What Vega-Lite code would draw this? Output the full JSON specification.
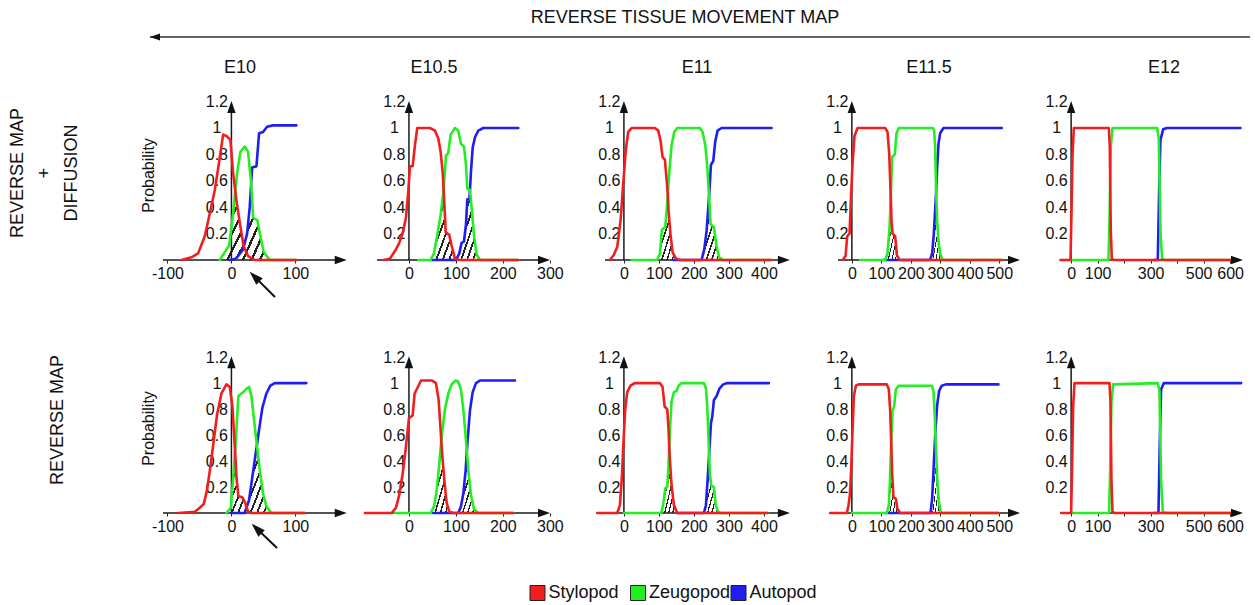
{
"$schema":"https://vega.github.io/schema/vega-lite/v6.json",
"padding":0,
"background":"white",
"autosize":{"type":"pad"},
"config":{
 "view":{"stroke":null},
 "font":"Liberation Sans",
 "axis":{"grid":false,"domain":false,"labelFontSize":16,"labelColor":"#111","tickColor":"#222","labelFont":"Liberation Sans","labelOverlap":false,"labelFlush":false,"labelBound":false,"tickCount":20},
 "line":{"strokeWidth":2.6,"strokeJoin":"round","strokeCap":"round"},
 "area":{"fill":{"gradient":"linear","x1":0,"y1":0,"x2":1,"y2":1,"stops":[
{"offset":0,"color":"#ffffff"},{"offset":0.0875,"color":"#ffffff"},{"offset":0.0875,"color":"#222222"},{"offset":0.125,"color":"#222222"},
{"offset":0.125,"color":"#ffffff"},{"offset":0.2125,"color":"#ffffff"},{"offset":0.2125,"color":"#222222"},{"offset":0.25,"color":"#222222"},
{"offset":0.25,"color":"#ffffff"},{"offset":0.3375,"color":"#ffffff"},{"offset":0.3375,"color":"#222222"},{"offset":0.375,"color":"#222222"},
{"offset":0.375,"color":"#ffffff"},{"offset":0.4625,"color":"#ffffff"},{"offset":0.4625,"color":"#222222"},{"offset":0.5,"color":"#222222"},
{"offset":0.5,"color":"#ffffff"},{"offset":0.5875,"color":"#ffffff"},{"offset":0.5875,"color":"#222222"},{"offset":0.625,"color":"#222222"},
{"offset":0.625,"color":"#ffffff"},{"offset":0.7125,"color":"#ffffff"},{"offset":0.7125,"color":"#222222"},{"offset":0.75,"color":"#222222"},
{"offset":0.75,"color":"#ffffff"},{"offset":0.8375,"color":"#ffffff"},{"offset":0.8375,"color":"#222222"},{"offset":0.875,"color":"#222222"},
{"offset":0.875,"color":"#ffffff"},{"offset":0.9625,"color":"#ffffff"},{"offset":0.9625,"color":"#222222"},{"offset":1,"color":"#222222"}]}}
},
"datasets":{
"rowlabels":[{"r":1,"label":"REVERSE MAP\n+\nDIFFUSION"},{"r":2,"label":"REVERSE MAP"}],
"stages":[{"stage":"E10"},{"stage":"E10.5"},{"stage":"E11"},{"stage":"E11.5"},{"stage":"E12"}],
"parts":[{"s":"Stylopod"},{"s":"Zeugopod"},{"s":"Autopod"}],
"ov":[
{"p":"T1","g":"a","x":-18.2,"y":0},{"p":"T1","g":"a","x":-10.4,"y":0.06},{"p":"T1","g":"a","x":-3.6,"y":0.11},{"p":"T1","g":"a","x":2.6,"y":0.35},{"p":"T1","g":"a","x":6,"y":0.52},{"p":"T1","g":"a","x":7.8,"y":0.45},{"p":"T1","g":"a","x":14.1,"y":0.25},{"p":"T1","g":"a","x":19.3,"y":0.1},{"p":"T1","g":"a","x":26,"y":0.03},{"p":"T1","g":"a","x":36.5,"y":0},
{"p":"T1","g":"b","x":6.8,"y":0},{"p":"T1","g":"b","x":10.4,"y":0.03},{"p":"T1","g":"b","x":18.2,"y":0.08},{"p":"T1","g":"b","x":24.5,"y":0.2},{"p":"T1","g":"b","x":28.6,"y":0.4},{"p":"T1","g":"b","x":30.9,"y":0.58},{"p":"T1","g":"b","x":33.9,"y":0.32},{"p":"T1","g":"b","x":40.6,"y":0.3},{"p":"T1","g":"b","x":45.3,"y":0.18},{"p":"T1","g":"b","x":50.5,"y":0.06},{"p":"T1","g":"b","x":59.9,"y":0},
{"p":"T2","g":"a","x":46.1,"y":0},{"p":"T2","g":"a","x":53.2,"y":0.05},{"p":"T2","g":"a","x":60.3,"y":0.19},{"p":"T2","g":"a","x":67.4,"y":0.34},{"p":"T2","g":"a","x":73.8,"y":0.53},{"p":"T2","g":"a","x":76.7,"y":0.33},{"p":"T2","g":"a","x":78.1,"y":0.21},{"p":"T2","g":"a","x":85.9,"y":0.19},{"p":"T2","g":"a","x":90.8,"y":0.11},{"p":"T2","g":"a","x":97.9,"y":0.01},{"p":"T2","g":"a","x":101.5,"y":0},
{"p":"T2","g":"b","x":100.1,"y":0},{"p":"T2","g":"b","x":107.2,"y":0.05},{"p":"T2","g":"b","x":112.1,"y":0.13},{"p":"T2","g":"b","x":117.1,"y":0.14},{"p":"T2","g":"b","x":121.4,"y":0.27},{"p":"T2","g":"b","x":124.2,"y":0.46},{"p":"T2","g":"b","x":128.5,"y":0.46},{"p":"T2","g":"b","x":129.9,"y":0.53},{"p":"T2","g":"b","x":134.1,"y":0.37},{"p":"T2","g":"b","x":138.4,"y":0.19},{"p":"T2","g":"b","x":144.1,"y":0.04},{"p":"T2","g":"b","x":151.2,"y":0},
{"p":"T3","g":"a","x":95.2,"y":0},{"p":"T3","g":"a","x":102.9,"y":0.05},{"p":"T3","g":"a","x":108.6,"y":0.23},{"p":"T3","g":"a","x":118.1,"y":0.25},{"p":"T3","g":"a","x":123.8,"y":0.43},{"p":"T3","g":"a","x":125.4,"y":0.5},{"p":"T3","g":"a","x":127.6,"y":0.37},{"p":"T3","g":"a","x":133.3,"y":0.19},{"p":"T3","g":"a","x":139,"y":0.06},{"p":"T3","g":"a","x":148.6,"y":0.01},{"p":"T3","g":"a","x":155.2,"y":0},
{"p":"T3","g":"b","x":221.9,"y":0},{"p":"T3","g":"b","x":229.5,"y":0.08},{"p":"T3","g":"b","x":236.2,"y":0.22},{"p":"T3","g":"b","x":243.3,"y":0.48},{"p":"T3","g":"b","x":247.6,"y":0.27},{"p":"T3","g":"b","x":257.1,"y":0.25},{"p":"T3","g":"b","x":264.8,"y":0.1},{"p":"T3","g":"b","x":272.4,"y":0.02},{"p":"T3","g":"b","x":283.8,"y":0},
{"p":"T4","g":"a","x":113,"y":0},{"p":"T4","g":"a","x":120.9,"y":0.05},{"p":"T4","g":"a","x":127.7,"y":0.24},{"p":"T4","g":"a","x":132,"y":0.48},{"p":"T4","g":"a","x":134.5,"y":0.29},{"p":"T4","g":"a","x":137.9,"y":0.2},{"p":"T4","g":"a","x":146.9,"y":0.18},{"p":"T4","g":"a","x":152.5,"y":0.04},{"p":"T4","g":"a","x":161.6,"y":0},
{"p":"T4","g":"b","x":265.5,"y":0},{"p":"T4","g":"b","x":272.3,"y":0.05},{"p":"T4","g":"b","x":278,"y":0.2},{"p":"T4","g":"b","x":282.5,"y":0.38},{"p":"T4","g":"b","x":285.9,"y":0.52},{"p":"T4","g":"b","x":289.3,"y":0.3},{"p":"T4","g":"b","x":293.8,"y":0.14},{"p":"T4","g":"b","x":299.4,"y":0.05},{"p":"T4","g":"b","x":307.3,"y":0},
{"p":"B1","g":"a","x":-7.8,"y":0},{"p":"B1","g":"a","x":-1,"y":0.04},{"p":"B1","g":"a","x":2.6,"y":0.26},{"p":"B1","g":"a","x":5.7,"y":0.48},{"p":"B1","g":"a","x":7.8,"y":0.28},{"p":"B1","g":"a","x":10.9,"y":0.13},{"p":"B1","g":"a","x":17.2,"y":0.12},{"p":"B1","g":"a","x":21.4,"y":0.08},{"p":"B1","g":"a","x":26,"y":0.01},{"p":"B1","g":"a","x":31.3,"y":0},
{"p":"B1","g":"b","x":20.8,"y":0},{"p":"B1","g":"b","x":27.6,"y":0.1},{"p":"B1","g":"b","x":32.8,"y":0.28},{"p":"B1","g":"b","x":38,"y":0.46},{"p":"B1","g":"b","x":39.8,"y":0.52},{"p":"B1","g":"b","x":44.3,"y":0.33},{"p":"B1","g":"b","x":49.5,"y":0.15},{"p":"B1","g":"b","x":54.7,"y":0.05},{"p":"B1","g":"b","x":62.5,"y":0},
{"p":"B2","g":"a","x":46.1,"y":0},{"p":"B2","g":"a","x":53.2,"y":0.05},{"p":"B2","g":"a","x":58.9,"y":0.17},{"p":"B2","g":"a","x":64.6,"y":0.38},{"p":"B2","g":"a","x":68.8,"y":0.555},{"p":"B2","g":"a","x":71.7,"y":0.41},{"p":"B2","g":"a","x":75.9,"y":0.23},{"p":"B2","g":"a","x":80.2,"y":0.08},{"p":"B2","g":"a","x":85.9,"y":0.01},{"p":"B2","g":"a","x":90.8,"y":0},
{"p":"B2","g":"b","x":105,"y":0},{"p":"B2","g":"b","x":110.7,"y":0.05},{"p":"B2","g":"b","x":115.7,"y":0.15},{"p":"B2","g":"b","x":120.7,"y":0.33},{"p":"B2","g":"b","x":123.3,"y":0.475},{"p":"B2","g":"b","x":126.3,"y":0.33},{"p":"B2","g":"b","x":132,"y":0.14},{"p":"B2","g":"b","x":138.4,"y":0.03},{"p":"B2","g":"b","x":147.6,"y":0},
{"p":"B3","g":"a","x":106.7,"y":0},{"p":"B3","g":"a","x":112.4,"y":0.07},{"p":"B3","g":"a","x":118.1,"y":0.19},{"p":"B3","g":"a","x":123.8,"y":0.2},{"p":"B3","g":"a","x":127.6,"y":0.38},{"p":"B3","g":"a","x":129.5,"y":0.51},{"p":"B3","g":"a","x":131.4,"y":0.41},{"p":"B3","g":"a","x":136.2,"y":0.21},{"p":"B3","g":"a","x":142.9,"y":0.06},{"p":"B3","g":"a","x":152.4,"y":0},
{"p":"B3","g":"b","x":228.6,"y":0},{"p":"B3","g":"b","x":234.3,"y":0.06},{"p":"B3","g":"b","x":239,"y":0.25},{"p":"B3","g":"b","x":243.4,"y":0.45},{"p":"B3","g":"b","x":245.7,"y":0.3},{"p":"B3","g":"b","x":249.5,"y":0.21},{"p":"B3","g":"b","x":257.1,"y":0.2},{"p":"B3","g":"b","x":261.9,"y":0.07},{"p":"B3","g":"b","x":268.6,"y":0.01},{"p":"B3","g":"b","x":276.2,"y":0},
{"p":"B4","g":"a","x":118.6,"y":0},{"p":"B4","g":"a","x":125.4,"y":0.06},{"p":"B4","g":"a","x":129.9,"y":0.28},{"p":"B4","g":"a","x":133.4,"y":0.55},{"p":"B4","g":"a","x":136.7,"y":0.3},{"p":"B4","g":"a","x":141.2,"y":0.12},{"p":"B4","g":"a","x":149.2,"y":0.11},{"p":"B4","g":"a","x":154.8,"y":0.03},{"p":"B4","g":"a","x":163.8,"y":0},
{"p":"B4","g":"b","x":266.7,"y":0},{"p":"B4","g":"b","x":272.3,"y":0.11},{"p":"B4","g":"b","x":278,"y":0.38},{"p":"B4","g":"b","x":283.1,"y":0.62},{"p":"B4","g":"b","x":285.9,"y":0.46},{"p":"B4","g":"b","x":290.4,"y":0.23},{"p":"B4","g":"b","x":294.9,"y":0.09},{"p":"B4","g":"b","x":301.7,"y":0}
],
"curves":[
{"p":"T1","s":"Autopod","x":-2.6,"y":0},{"p":"T1","s":"Autopod","x":6.8,"y":0.01},{"p":"T1","s":"Autopod","x":10.4,"y":0.03},{"p":"T1","s":"Autopod","x":18.2,"y":0.08},{"p":"T1","s":"Autopod","x":24.5,"y":0.2},{"p":"T1","s":"Autopod","x":28.6,"y":0.4},{"p":"T1","s":"Autopod","x":30.9,"y":0.58},{"p":"T1","s":"Autopod","x":32.3,"y":0.7},{"p":"T1","s":"Autopod","x":39.1,"y":0.71},{"p":"T1","s":"Autopod","x":43.2,"y":0.96},{"p":"T1","s":"Autopod","x":49.5,"y":0.97},{"p":"T1","s":"Autopod","x":55.7,"y":1.01},{"p":"T1","s":"Autopod","x":65.1,"y":1.02},{"p":"T1","s":"Autopod","x":101.6,"y":1.02},
{"p":"T1","s":"Zeugopod","x":-18.2,"y":0},{"p":"T1","s":"Zeugopod","x":-10.4,"y":0.06},{"p":"T1","s":"Zeugopod","x":-3.6,"y":0.11},{"p":"T1","s":"Zeugopod","x":2.6,"y":0.35},{"p":"T1","s":"Zeugopod","x":6,"y":0.525},{"p":"T1","s":"Zeugopod","x":8.9,"y":0.66},{"p":"T1","s":"Zeugopod","x":14.1,"y":0.82},{"p":"T1","s":"Zeugopod","x":20.8,"y":0.86},{"p":"T1","s":"Zeugopod","x":26,"y":0.82},{"p":"T1","s":"Zeugopod","x":30.9,"y":0.58},{"p":"T1","s":"Zeugopod","x":33.9,"y":0.32},{"p":"T1","s":"Zeugopod","x":40.6,"y":0.3},{"p":"T1","s":"Zeugopod","x":45.3,"y":0.18},{"p":"T1","s":"Zeugopod","x":50.5,"y":0.06},{"p":"T1","s":"Zeugopod","x":59.9,"y":0},{"p":"T1","s":"Zeugopod","x":101.6,"y":0},
{"p":"T1","s":"Stylopod","x":-78.1,"y":0},{"p":"T1","s":"Stylopod","x":-62.5,"y":0.02},{"p":"T1","s":"Stylopod","x":-52.1,"y":0.05},{"p":"T1","s":"Stylopod","x":-41.7,"y":0.18},{"p":"T1","s":"Stylopod","x":-33.9,"y":0.35},{"p":"T1","s":"Stylopod","x":-26,"y":0.53},{"p":"T1","s":"Stylopod","x":-19.3,"y":0.74},{"p":"T1","s":"Stylopod","x":-13,"y":0.95},{"p":"T1","s":"Stylopod","x":-7.8,"y":0.94},{"p":"T1","s":"Stylopod","x":-1.6,"y":0.91},{"p":"T1","s":"Stylopod","x":2.6,"y":0.66},{"p":"T1","s":"Stylopod","x":6,"y":0.525},{"p":"T1","s":"Stylopod","x":7.8,"y":0.45},{"p":"T1","s":"Stylopod","x":14.1,"y":0.25},{"p":"T1","s":"Stylopod","x":19.3,"y":0.1},{"p":"T1","s":"Stylopod","x":26,"y":0.03},{"p":"T1","s":"Stylopod","x":36.5,"y":0},{"p":"T1","s":"Stylopod","x":101.6,"y":0},
{"p":"T2","s":"Autopod","x":48.3,"y":0},{"p":"T2","s":"Autopod","x":100.1,"y":0},{"p":"T2","s":"Autopod","x":107.2,"y":0.05},{"p":"T2","s":"Autopod","x":112.1,"y":0.13},{"p":"T2","s":"Autopod","x":117.1,"y":0.14},{"p":"T2","s":"Autopod","x":121.4,"y":0.27},{"p":"T2","s":"Autopod","x":124.2,"y":0.46},{"p":"T2","s":"Autopod","x":128.5,"y":0.46},{"p":"T2","s":"Autopod","x":129.9,"y":0.53},{"p":"T2","s":"Autopod","x":132,"y":0.67},{"p":"T2","s":"Autopod","x":135.6,"y":0.85},{"p":"T2","s":"Autopod","x":140.5,"y":0.93},{"p":"T2","s":"Autopod","x":147.6,"y":0.98},{"p":"T2","s":"Autopod","x":158.3,"y":1},{"p":"T2","s":"Autopod","x":232.8,"y":1},
{"p":"T2","s":"Zeugopod","x":19.9,"y":0},{"p":"T2","s":"Zeugopod","x":46.1,"y":0},{"p":"T2","s":"Zeugopod","x":53.2,"y":0.05},{"p":"T2","s":"Zeugopod","x":60.3,"y":0.19},{"p":"T2","s":"Zeugopod","x":67.4,"y":0.34},{"p":"T2","s":"Zeugopod","x":73.8,"y":0.53},{"p":"T2","s":"Zeugopod","x":78.8,"y":0.79},{"p":"T2","s":"Zeugopod","x":83.7,"y":0.81},{"p":"T2","s":"Zeugopod","x":88.7,"y":0.95},{"p":"T2","s":"Zeugopod","x":97.9,"y":1},{"p":"T2","s":"Zeugopod","x":105,"y":0.98},{"p":"T2","s":"Zeugopod","x":110.7,"y":0.88},{"p":"T2","s":"Zeugopod","x":117.1,"y":0.86},{"p":"T2","s":"Zeugopod","x":121.4,"y":0.72},{"p":"T2","s":"Zeugopod","x":124.2,"y":0.54},{"p":"T2","s":"Zeugopod","x":129.9,"y":0.53},{"p":"T2","s":"Zeugopod","x":134.1,"y":0.37},{"p":"T2","s":"Zeugopod","x":138.4,"y":0.19},{"p":"T2","s":"Zeugopod","x":144.1,"y":0.04},{"p":"T2","s":"Zeugopod","x":151.2,"y":0},{"p":"T2","s":"Zeugopod","x":232.8,"y":0},
{"p":"T2","s":"Stylopod","x":-54.6,"y":0},{"p":"T2","s":"Stylopod","x":-40.5,"y":0.01},{"p":"T2","s":"Stylopod","x":-27.7,"y":0.08},{"p":"T2","s":"Stylopod","x":-20.6,"y":0.13},{"p":"T2","s":"Stylopod","x":-13.5,"y":0.2},{"p":"T2","s":"Stylopod","x":-6.4,"y":0.32},{"p":"T2","s":"Stylopod","x":-1.4,"y":0.52},{"p":"T2","s":"Stylopod","x":2.1,"y":0.71},{"p":"T2","s":"Stylopod","x":7.8,"y":0.71},{"p":"T2","s":"Stylopod","x":12.8,"y":0.87},{"p":"T2","s":"Stylopod","x":17.7,"y":1},{"p":"T2","s":"Stylopod","x":44.7,"y":1},{"p":"T2","s":"Stylopod","x":55.4,"y":0.98},{"p":"T2","s":"Stylopod","x":62.5,"y":0.92},{"p":"T2","s":"Stylopod","x":67.4,"y":0.82},{"p":"T2","s":"Stylopod","x":71.7,"y":0.67},{"p":"T2","s":"Stylopod","x":73.8,"y":0.53},{"p":"T2","s":"Stylopod","x":76.7,"y":0.33},{"p":"T2","s":"Stylopod","x":78.1,"y":0.21},{"p":"T2","s":"Stylopod","x":85.9,"y":0.19},{"p":"T2","s":"Stylopod","x":90.8,"y":0.11},{"p":"T2","s":"Stylopod","x":97.9,"y":0.01},{"p":"T2","s":"Stylopod","x":108.6,"y":0},{"p":"T2","s":"Stylopod","x":232.8,"y":0},
{"p":"T3","s":"Autopod","x":141,"y":0},{"p":"T3","s":"Autopod","x":221.9,"y":0},{"p":"T3","s":"Autopod","x":229.5,"y":0.08},{"p":"T3","s":"Autopod","x":236.2,"y":0.22},{"p":"T3","s":"Autopod","x":243.3,"y":0.48},{"p":"T3","s":"Autopod","x":248.6,"y":0.72},{"p":"T3","s":"Autopod","x":255.2,"y":0.75},{"p":"T3","s":"Autopod","x":261,"y":0.9},{"p":"T3","s":"Autopod","x":267.6,"y":0.98},{"p":"T3","s":"Autopod","x":279,"y":1},{"p":"T3","s":"Autopod","x":421.9,"y":1},
{"p":"T3","s":"Zeugopod","x":21.9,"y":0},{"p":"T3","s":"Zeugopod","x":95.2,"y":0},{"p":"T3","s":"Zeugopod","x":102.9,"y":0.05},{"p":"T3","s":"Zeugopod","x":108.6,"y":0.23},{"p":"T3","s":"Zeugopod","x":118.1,"y":0.25},{"p":"T3","s":"Zeugopod","x":123.8,"y":0.43},{"p":"T3","s":"Zeugopod","x":125.4,"y":0.5},{"p":"T3","s":"Zeugopod","x":129.5,"y":0.66},{"p":"T3","s":"Zeugopod","x":136.2,"y":0.87},{"p":"T3","s":"Zeugopod","x":143.8,"y":0.97},{"p":"T3","s":"Zeugopod","x":152.4,"y":1},{"p":"T3","s":"Zeugopod","x":217.1,"y":1},{"p":"T3","s":"Zeugopod","x":224.8,"y":0.97},{"p":"T3","s":"Zeugopod","x":232.4,"y":0.87},{"p":"T3","s":"Zeugopod","x":238.1,"y":0.71},{"p":"T3","s":"Zeugopod","x":243.3,"y":0.48},{"p":"T3","s":"Zeugopod","x":247.6,"y":0.27},{"p":"T3","s":"Zeugopod","x":257.1,"y":0.25},{"p":"T3","s":"Zeugopod","x":264.8,"y":0.1},{"p":"T3","s":"Zeugopod","x":272.4,"y":0.02},{"p":"T3","s":"Zeugopod","x":283.8,"y":0},{"p":"T3","s":"Zeugopod","x":421.9,"y":0},
{"p":"T3","s":"Stylopod","x":-40,"y":0},{"p":"T3","s":"Stylopod","x":-28.6,"y":0.04},{"p":"T3","s":"Stylopod","x":-19,"y":0.1},{"p":"T3","s":"Stylopod","x":-9.5,"y":0.3},{"p":"T3","s":"Stylopod","x":-1.9,"y":0.58},{"p":"T3","s":"Stylopod","x":5.7,"y":0.84},{"p":"T3","s":"Stylopod","x":12.4,"y":0.97},{"p":"T3","s":"Stylopod","x":21.9,"y":1},{"p":"T3","s":"Stylopod","x":88.6,"y":1},{"p":"T3","s":"Stylopod","x":98.1,"y":0.98},{"p":"T3","s":"Stylopod","x":104.8,"y":0.9},{"p":"T3","s":"Stylopod","x":110.5,"y":0.78},{"p":"T3","s":"Stylopod","x":117.1,"y":0.76},{"p":"T3","s":"Stylopod","x":121.9,"y":0.61},{"p":"T3","s":"Stylopod","x":125.4,"y":0.5},{"p":"T3","s":"Stylopod","x":127.6,"y":0.37},{"p":"T3","s":"Stylopod","x":133.3,"y":0.19},{"p":"T3","s":"Stylopod","x":139,"y":0.06},{"p":"T3","s":"Stylopod","x":148.6,"y":0.01},{"p":"T3","s":"Stylopod","x":160,"y":0},{"p":"T3","s":"Stylopod","x":421.9,"y":0},
{"p":"T4","s":"Autopod","x":107.3,"y":0},{"p":"T4","s":"Autopod","x":265.5,"y":0},{"p":"T4","s":"Autopod","x":272.3,"y":0.05},{"p":"T4","s":"Autopod","x":278,"y":0.2},{"p":"T4","s":"Autopod","x":282.5,"y":0.38},{"p":"T4","s":"Autopod","x":285.9,"y":0.52},{"p":"T4","s":"Autopod","x":289.3,"y":0.7},{"p":"T4","s":"Autopod","x":293.8,"y":0.88},{"p":"T4","s":"Autopod","x":299.4,"y":0.96},{"p":"T4","s":"Autopod","x":310.7,"y":1},{"p":"T4","s":"Autopod","x":508.5,"y":1},
{"p":"T4","s":"Zeugopod","x":28.2,"y":0},{"p":"T4","s":"Zeugopod","x":113,"y":0},{"p":"T4","s":"Zeugopod","x":120.9,"y":0.05},{"p":"T4","s":"Zeugopod","x":127.7,"y":0.24},{"p":"T4","s":"Zeugopod","x":132,"y":0.48},{"p":"T4","s":"Zeugopod","x":136.7,"y":0.78},{"p":"T4","s":"Zeugopod","x":145.8,"y":0.8},{"p":"T4","s":"Zeugopod","x":151.4,"y":0.96},{"p":"T4","s":"Zeugopod","x":159.3,"y":1},{"p":"T4","s":"Zeugopod","x":274.6,"y":1},{"p":"T4","s":"Zeugopod","x":279.1,"y":0.98},{"p":"T4","s":"Zeugopod","x":282.5,"y":0.85},{"p":"T4","s":"Zeugopod","x":285.9,"y":0.52},{"p":"T4","s":"Zeugopod","x":289.3,"y":0.3},{"p":"T4","s":"Zeugopod","x":293.8,"y":0.14},{"p":"T4","s":"Zeugopod","x":299.4,"y":0.05},{"p":"T4","s":"Zeugopod","x":307.3,"y":0},{"p":"T4","s":"Zeugopod","x":508.5,"y":0},
{"p":"T4","s":"Stylopod","x":-30.5,"y":0},{"p":"T4","s":"Stylopod","x":-21.5,"y":0.03},{"p":"T4","s":"Stylopod","x":-15.8,"y":0.18},{"p":"T4","s":"Stylopod","x":-7.9,"y":0.2},{"p":"T4","s":"Stylopod","x":-3.4,"y":0.45},{"p":"T4","s":"Stylopod","x":2.3,"y":0.73},{"p":"T4","s":"Stylopod","x":9,"y":0.94},{"p":"T4","s":"Stylopod","x":19.2,"y":1},{"p":"T4","s":"Stylopod","x":113,"y":1},{"p":"T4","s":"Stylopod","x":120.9,"y":0.97},{"p":"T4","s":"Stylopod","x":126.6,"y":0.81},{"p":"T4","s":"Stylopod","x":132,"y":0.48},{"p":"T4","s":"Stylopod","x":134.5,"y":0.29},{"p":"T4","s":"Stylopod","x":137.9,"y":0.2},{"p":"T4","s":"Stylopod","x":146.9,"y":0.18},{"p":"T4","s":"Stylopod","x":152.5,"y":0.04},{"p":"T4","s":"Stylopod","x":161.6,"y":0},{"p":"T4","s":"Stylopod","x":508.5,"y":0},
{"p":"T5","s":"Autopod","x":311.9,"y":0},{"p":"T5","s":"Autopod","x":327,"y":0},{"p":"T5","s":"Autopod","x":332.1,"y":0.53},{"p":"T5","s":"Autopod","x":337.1,"y":0.91},{"p":"T5","s":"Autopod","x":347.2,"y":0.99},{"p":"T5","s":"Autopod","x":362.3,"y":1},{"p":"T5","s":"Autopod","x":639,"y":1},
{"p":"T5","s":"Zeugopod","x":3.8,"y":0},{"p":"T5","s":"Zeugopod","x":140.9,"y":0},{"p":"T5","s":"Zeugopod","x":144.7,"y":0.3},{"p":"T5","s":"Zeugopod","x":149.7,"y":0.86},{"p":"T5","s":"Zeugopod","x":156,"y":1},{"p":"T5","s":"Zeugopod","x":324.5,"y":1},{"p":"T5","s":"Zeugopod","x":330.8,"y":0.92},{"p":"T5","s":"Zeugopod","x":337.1,"y":0.22},{"p":"T5","s":"Zeugopod","x":343.4,"y":0.01},{"p":"T5","s":"Zeugopod","x":356,"y":0},{"p":"T5","s":"Zeugopod","x":613.8,"y":0},
{"p":"T5","s":"Stylopod","x":-40.3,"y":0},{"p":"T5","s":"Stylopod","x":-2.5,"y":0},{"p":"T5","s":"Stylopod","x":1.3,"y":0.35},{"p":"T5","s":"Stylopod","x":5,"y":0.78},{"p":"T5","s":"Stylopod","x":10.1,"y":1},{"p":"T5","s":"Stylopod","x":142.1,"y":1},{"p":"T5","s":"Stylopod","x":145.9,"y":0.86},{"p":"T5","s":"Stylopod","x":149.7,"y":0.22},{"p":"T5","s":"Stylopod","x":153.5,"y":0.01},{"p":"T5","s":"Stylopod","x":161,"y":0},{"p":"T5","s":"Stylopod","x":613.8,"y":0},
{"p":"B1","s":"Autopod","x":0,"y":0},{"p":"B1","s":"Autopod","x":20.8,"y":0},{"p":"B1","s":"Autopod","x":27.6,"y":0.1},{"p":"B1","s":"Autopod","x":32.8,"y":0.28},{"p":"B1","s":"Autopod","x":38,"y":0.46},{"p":"B1","s":"Autopod","x":39.8,"y":0.52},{"p":"B1","s":"Autopod","x":43.2,"y":0.64},{"p":"B1","s":"Autopod","x":48.4,"y":0.81},{"p":"B1","s":"Autopod","x":54.7,"y":0.92},{"p":"B1","s":"Autopod","x":60.9,"y":0.98},{"p":"B1","s":"Autopod","x":67.7,"y":1},{"p":"B1","s":"Autopod","x":117.2,"y":1},
{"p":"B1","s":"Zeugopod","x":-7.8,"y":0},{"p":"B1","s":"Zeugopod","x":-1,"y":0.04},{"p":"B1","s":"Zeugopod","x":2.6,"y":0.26},{"p":"B1","s":"Zeugopod","x":5.7,"y":0.48},{"p":"B1","s":"Zeugopod","x":6.8,"y":0.56},{"p":"B1","s":"Zeugopod","x":10.9,"y":0.9},{"p":"B1","s":"Zeugopod","x":18.2,"y":0.93},{"p":"B1","s":"Zeugopod","x":24.5,"y":0.96},{"p":"B1","s":"Zeugopod","x":27.6,"y":0.97},{"p":"B1","s":"Zeugopod","x":31.3,"y":0.9},{"p":"B1","s":"Zeugopod","x":34.9,"y":0.74},{"p":"B1","s":"Zeugopod","x":39.8,"y":0.52},{"p":"B1","s":"Zeugopod","x":44.3,"y":0.33},{"p":"B1","s":"Zeugopod","x":49.5,"y":0.15},{"p":"B1","s":"Zeugopod","x":54.7,"y":0.05},{"p":"B1","s":"Zeugopod","x":62.5,"y":0},{"p":"B1","s":"Zeugopod","x":114.6,"y":0},
{"p":"B1","s":"Stylopod","x":-83.3,"y":0},{"p":"B1","s":"Stylopod","x":-57.3,"y":0.01},{"p":"B1","s":"Stylopod","x":-49.5,"y":0.04},{"p":"B1","s":"Stylopod","x":-43.2,"y":0.07},{"p":"B1","s":"Stylopod","x":-38,"y":0.18},{"p":"B1","s":"Stylopod","x":-32.8,"y":0.36},{"p":"B1","s":"Stylopod","x":-27.6,"y":0.56},{"p":"B1","s":"Stylopod","x":-22.4,"y":0.76},{"p":"B1","s":"Stylopod","x":-15.6,"y":0.92},{"p":"B1","s":"Stylopod","x":-7.8,"y":0.99},{"p":"B1","s":"Stylopod","x":-2.6,"y":0.97},{"p":"B1","s":"Stylopod","x":1.6,"y":0.82},{"p":"B1","s":"Stylopod","x":4.7,"y":0.56},{"p":"B1","s":"Stylopod","x":5.7,"y":0.48},{"p":"B1","s":"Stylopod","x":7.8,"y":0.28},{"p":"B1","s":"Stylopod","x":10.9,"y":0.13},{"p":"B1","s":"Stylopod","x":17.2,"y":0.12},{"p":"B1","s":"Stylopod","x":21.4,"y":0.08},{"p":"B1","s":"Stylopod","x":26,"y":0.01},{"p":"B1","s":"Stylopod","x":31.3,"y":0},{"p":"B1","s":"Stylopod","x":114.6,"y":0},
{"p":"B2","s":"Autopod","x":51.8,"y":0},{"p":"B2","s":"Autopod","x":105,"y":0},{"p":"B2","s":"Autopod","x":110.7,"y":0.05},{"p":"B2","s":"Autopod","x":115.7,"y":0.15},{"p":"B2","s":"Autopod","x":120.7,"y":0.33},{"p":"B2","s":"Autopod","x":123.3,"y":0.475},{"p":"B2","s":"Autopod","x":124.9,"y":0.56},{"p":"B2","s":"Autopod","x":129.9,"y":0.79},{"p":"B2","s":"Autopod","x":135.6,"y":0.93},{"p":"B2","s":"Autopod","x":142.7,"y":1},{"p":"B2","s":"Autopod","x":151.2,"y":1.02},{"p":"B2","s":"Autopod","x":225.7,"y":1.02},
{"p":"B2","s":"Zeugopod","x":-29.8,"y":0},{"p":"B2","s":"Zeugopod","x":46.1,"y":0},{"p":"B2","s":"Zeugopod","x":53.2,"y":0.05},{"p":"B2","s":"Zeugopod","x":58.9,"y":0.17},{"p":"B2","s":"Zeugopod","x":64.6,"y":0.38},{"p":"B2","s":"Zeugopod","x":68.8,"y":0.555},{"p":"B2","s":"Zeugopod","x":70.3,"y":0.61},{"p":"B2","s":"Zeugopod","x":76.7,"y":0.8},{"p":"B2","s":"Zeugopod","x":83.7,"y":0.92},{"p":"B2","s":"Zeugopod","x":90.8,"y":0.99},{"p":"B2","s":"Zeugopod","x":99.4,"y":1.02},{"p":"B2","s":"Zeugopod","x":105,"y":1.01},{"p":"B2","s":"Zeugopod","x":110.7,"y":0.95},{"p":"B2","s":"Zeugopod","x":115.7,"y":0.8},{"p":"B2","s":"Zeugopod","x":121.4,"y":0.56},{"p":"B2","s":"Zeugopod","x":123.3,"y":0.475},{"p":"B2","s":"Zeugopod","x":126.3,"y":0.33},{"p":"B2","s":"Zeugopod","x":132,"y":0.14},{"p":"B2","s":"Zeugopod","x":138.4,"y":0.03},{"p":"B2","s":"Zeugopod","x":147.6,"y":0},{"p":"B2","s":"Zeugopod","x":222.1,"y":0},
{"p":"B2","s":"Stylopod","x":-93.7,"y":0},{"p":"B2","s":"Stylopod","x":-36.9,"y":0},{"p":"B2","s":"Stylopod","x":-27.7,"y":0.04},{"p":"B2","s":"Stylopod","x":-20.6,"y":0.14},{"p":"B2","s":"Stylopod","x":-13.5,"y":0.3},{"p":"B2","s":"Stylopod","x":-6.4,"y":0.51},{"p":"B2","s":"Stylopod","x":0,"y":0.73},{"p":"B2","s":"Stylopod","x":7.8,"y":0.75},{"p":"B2","s":"Stylopod","x":12.1,"y":0.92},{"p":"B2","s":"Stylopod","x":17.7,"y":0.96},{"p":"B2","s":"Stylopod","x":25.6,"y":1.02},{"p":"B2","s":"Stylopod","x":48.3,"y":1.02},{"p":"B2","s":"Stylopod","x":57.5,"y":1},{"p":"B2","s":"Stylopod","x":63.2,"y":0.87},{"p":"B2","s":"Stylopod","x":67.4,"y":0.64},{"p":"B2","s":"Stylopod","x":68.8,"y":0.555},{"p":"B2","s":"Stylopod","x":71.7,"y":0.41},{"p":"B2","s":"Stylopod","x":75.9,"y":0.23},{"p":"B2","s":"Stylopod","x":80.2,"y":0.08},{"p":"B2","s":"Stylopod","x":85.9,"y":0.01},{"p":"B2","s":"Stylopod","x":94.4,"y":0},{"p":"B2","s":"Stylopod","x":222.1,"y":0},
{"p":"B3","s":"Autopod","x":152.4,"y":0},{"p":"B3","s":"Autopod","x":228.6,"y":0},{"p":"B3","s":"Autopod","x":234.3,"y":0.06},{"p":"B3","s":"Autopod","x":239,"y":0.25},{"p":"B3","s":"Autopod","x":243.4,"y":0.45},{"p":"B3","s":"Autopod","x":248.6,"y":0.69},{"p":"B3","s":"Autopod","x":252.4,"y":0.74},{"p":"B3","s":"Autopod","x":257.1,"y":0.87},{"p":"B3","s":"Autopod","x":264.8,"y":0.9},{"p":"B3","s":"Autopod","x":273.3,"y":0.96},{"p":"B3","s":"Autopod","x":283.8,"y":0.99},{"p":"B3","s":"Autopod","x":295.2,"y":1},{"p":"B3","s":"Autopod","x":414.3,"y":1},
{"p":"B3","s":"Zeugopod","x":0,"y":0},{"p":"B3","s":"Zeugopod","x":106.7,"y":0},{"p":"B3","s":"Zeugopod","x":112.4,"y":0.07},{"p":"B3","s":"Zeugopod","x":118.1,"y":0.19},{"p":"B3","s":"Zeugopod","x":123.8,"y":0.2},{"p":"B3","s":"Zeugopod","x":127.6,"y":0.38},{"p":"B3","s":"Zeugopod","x":129.5,"y":0.51},{"p":"B3","s":"Zeugopod","x":131.4,"y":0.64},{"p":"B3","s":"Zeugopod","x":136.2,"y":0.86},{"p":"B3","s":"Zeugopod","x":142.9,"y":0.93},{"p":"B3","s":"Zeugopod","x":150.5,"y":0.94},{"p":"B3","s":"Zeugopod","x":156.2,"y":0.98},{"p":"B3","s":"Zeugopod","x":163.8,"y":1},{"p":"B3","s":"Zeugopod","x":228.6,"y":1},{"p":"B3","s":"Zeugopod","x":234.3,"y":0.96},{"p":"B3","s":"Zeugopod","x":238.1,"y":0.82},{"p":"B3","s":"Zeugopod","x":241.9,"y":0.56},{"p":"B3","s":"Zeugopod","x":243.4,"y":0.45},{"p":"B3","s":"Zeugopod","x":245.7,"y":0.3},{"p":"B3","s":"Zeugopod","x":249.5,"y":0.21},{"p":"B3","s":"Zeugopod","x":257.1,"y":0.2},{"p":"B3","s":"Zeugopod","x":261.9,"y":0.07},{"p":"B3","s":"Zeugopod","x":268.6,"y":0.01},{"p":"B3","s":"Zeugopod","x":276.2,"y":0},{"p":"B3","s":"Zeugopod","x":409.5,"y":0},
{"p":"B3","s":"Stylopod","x":-76.2,"y":0},{"p":"B3","s":"Stylopod","x":-19,"y":0},{"p":"B3","s":"Stylopod","x":-11.4,"y":0.06},{"p":"B3","s":"Stylopod","x":-5.7,"y":0.28},{"p":"B3","s":"Stylopod","x":-1,"y":0.56},{"p":"B3","s":"Stylopod","x":3.8,"y":0.8},{"p":"B3","s":"Stylopod","x":9.5,"y":0.93},{"p":"B3","s":"Stylopod","x":19,"y":0.98},{"p":"B3","s":"Stylopod","x":30.5,"y":1},{"p":"B3","s":"Stylopod","x":102.9,"y":1},{"p":"B3","s":"Stylopod","x":110.5,"y":0.97},{"p":"B3","s":"Stylopod","x":116.2,"y":0.82},{"p":"B3","s":"Stylopod","x":123.8,"y":0.8},{"p":"B3","s":"Stylopod","x":127.6,"y":0.64},{"p":"B3","s":"Stylopod","x":129.5,"y":0.51},{"p":"B3","s":"Stylopod","x":131.4,"y":0.41},{"p":"B3","s":"Stylopod","x":136.2,"y":0.21},{"p":"B3","s":"Stylopod","x":142.9,"y":0.06},{"p":"B3","s":"Stylopod","x":152.4,"y":0},{"p":"B3","s":"Stylopod","x":409.5,"y":0},
{"p":"B4","s":"Autopod","x":113,"y":0},{"p":"B4","s":"Autopod","x":266.7,"y":0},{"p":"B4","s":"Autopod","x":272.3,"y":0.11},{"p":"B4","s":"Autopod","x":278,"y":0.38},{"p":"B4","s":"Autopod","x":283.1,"y":0.62},{"p":"B4","s":"Autopod","x":289.3,"y":0.83},{"p":"B4","s":"Autopod","x":296,"y":0.94},{"p":"B4","s":"Autopod","x":305.1,"y":0.98},{"p":"B4","s":"Autopod","x":318.6,"y":0.99},{"p":"B4","s":"Autopod","x":497.2,"y":0.99},
{"p":"B4","s":"Zeugopod","x":0,"y":0},{"p":"B4","s":"Zeugopod","x":118.6,"y":0},{"p":"B4","s":"Zeugopod","x":125.4,"y":0.06},{"p":"B4","s":"Zeugopod","x":129.9,"y":0.28},{"p":"B4","s":"Zeugopod","x":133.4,"y":0.55},{"p":"B4","s":"Zeugopod","x":137.9,"y":0.79},{"p":"B4","s":"Zeugopod","x":143.5,"y":0.82},{"p":"B4","s":"Zeugopod","x":149.2,"y":0.95},{"p":"B4","s":"Zeugopod","x":158.2,"y":0.98},{"p":"B4","s":"Zeugopod","x":271.2,"y":0.98},{"p":"B4","s":"Zeugopod","x":276.8,"y":0.94},{"p":"B4","s":"Zeugopod","x":281.4,"y":0.74},{"p":"B4","s":"Zeugopod","x":283.1,"y":0.62},{"p":"B4","s":"Zeugopod","x":285.9,"y":0.46},{"p":"B4","s":"Zeugopod","x":290.4,"y":0.23},{"p":"B4","s":"Zeugopod","x":294.9,"y":0.09},{"p":"B4","s":"Zeugopod","x":301.7,"y":0},{"p":"B4","s":"Zeugopod","x":497.2,"y":0},
{"p":"B4","s":"Stylopod","x":-73.4,"y":0},{"p":"B4","s":"Stylopod","x":-16.9,"y":0},{"p":"B4","s":"Stylopod","x":-11.3,"y":0.06},{"p":"B4","s":"Stylopod","x":-6.8,"y":0.14},{"p":"B4","s":"Stylopod","x":-2.3,"y":0.33},{"p":"B4","s":"Stylopod","x":2.3,"y":0.64},{"p":"B4","s":"Stylopod","x":6.8,"y":0.9},{"p":"B4","s":"Stylopod","x":13.6,"y":0.98},{"p":"B4","s":"Stylopod","x":22.6,"y":0.99},{"p":"B4","s":"Stylopod","x":118.6,"y":0.99},{"p":"B4","s":"Stylopod","x":125.4,"y":0.95},{"p":"B4","s":"Stylopod","x":129.9,"y":0.79},{"p":"B4","s":"Stylopod","x":133.4,"y":0.55},{"p":"B4","s":"Stylopod","x":136.7,"y":0.3},{"p":"B4","s":"Stylopod","x":141.2,"y":0.12},{"p":"B4","s":"Stylopod","x":149.2,"y":0.11},{"p":"B4","s":"Stylopod","x":154.8,"y":0.03},{"p":"B4","s":"Stylopod","x":163.8,"y":0},{"p":"B4","s":"Stylopod","x":497.2,"y":0},
{"p":"B5","s":"Autopod","x":314.5,"y":0},{"p":"B5","s":"Autopod","x":329.6,"y":0},{"p":"B5","s":"Autopod","x":334.6,"y":0.55},{"p":"B5","s":"Autopod","x":339.6,"y":0.95},{"p":"B5","s":"Autopod","x":349.7,"y":1},{"p":"B5","s":"Autopod","x":641.5,"y":1},
{"p":"B5","s":"Zeugopod","x":6.3,"y":0},{"p":"B5","s":"Zeugopod","x":143.4,"y":0},{"p":"B5","s":"Zeugopod","x":147.2,"y":0.33},{"p":"B5","s":"Zeugopod","x":152.2,"y":0.86},{"p":"B5","s":"Zeugopod","x":158.5,"y":0.99},{"p":"B5","s":"Zeugopod","x":327,"y":1},{"p":"B5","s":"Zeugopod","x":333.3,"y":0.94},{"p":"B5","s":"Zeugopod","x":339.6,"y":0.25},{"p":"B5","s":"Zeugopod","x":345.9,"y":0.01},{"p":"B5","s":"Zeugopod","x":358.5,"y":0},{"p":"B5","s":"Zeugopod","x":616.4,"y":0},
{"p":"B5","s":"Stylopod","x":-37.7,"y":0},{"p":"B5","s":"Stylopod","x":0,"y":0},{"p":"B5","s":"Stylopod","x":3.8,"y":0.38},{"p":"B5","s":"Stylopod","x":7.5,"y":0.81},{"p":"B5","s":"Stylopod","x":12.6,"y":1},{"p":"B5","s":"Stylopod","x":144.7,"y":1},{"p":"B5","s":"Stylopod","x":148.4,"y":0.86},{"p":"B5","s":"Stylopod","x":152.2,"y":0.25},{"p":"B5","s":"Stylopod","x":156,"y":0.01},{"p":"B5","s":"Stylopod","x":163.5,"y":0},{"p":"B5","s":"Stylopod","x":616.4,"y":0}
]
},
"bounds":"flush",
"align":"each",
"columns":6,
"spacing":{"row":0,"column":10},
"resolve":{"scale":{"x":"independent","y":"independent","color":"independent"}},
"concat":[
{"width":153,"height":95,"data":{"values":[{"t":"REVERSE TISSUE MOVEMENT MAP"}]},
 "layer":[
  {"mark":{"type":"text","fontSize":18,"color":"#111","dx":608.5,"dy":-29.5},"encoding":{"text":{"field":"t"}}},
  {"mark":{"type":"rule","color":"#333","strokeWidth":1.6},"encoding":{"x":{"datum":0.9804,"scale":{"domain":[0,1]},"axis":null},"x2":{"datum":8.17},"y":{"datum":0.6105,"scale":{"domain":[0,1]},"axis":null}}},
  {"mark":{"type":"point","shape":"M-1,0L1,-0.7L1,0.7Z","size":100,"filled":true,"color":"#111","opacity":1},"encoding":{"x":{"datum":1.0131,"axis":null},"y":{"datum":0.6105,"axis":null}}}
 ]},
{"width":204,"height":95,"data":{"name":"stages"},"transform":[{"filter":"datum.stage == 'E10'"}],"mark":{"type":"text","fontSize":18,"color":"#111","dx":-25,"dy":20.5},"encoding":{"text":{"field":"stage"}}},
{"width":218,"height":95,"data":{"name":"stages"},"transform":[{"filter":"datum.stage == 'E10.5'"}],"mark":{"type":"text","fontSize":18,"color":"#111","dx":-52,"dy":20.5},"encoding":{"text":{"field":"stage"}}},
{"width":223,"height":95,"data":{"name":"stages"},"transform":[{"filter":"datum.stage == 'E11'"}],"mark":{"type":"text","fontSize":18,"color":"#111","dx":-19.5,"dy":20.5},"encoding":{"text":{"field":"stage"}}},
{"width":212,"height":95,"data":{"name":"stages"},"transform":[{"filter":"datum.stage == 'E11.5'"}],"mark":{"type":"text","fontSize":18,"color":"#111","dx":-15,"dy":20.5},"encoding":{"text":{"field":"stage"}}},
{"width":190,"height":95,"data":{"name":"stages"},"transform":[{"filter":"datum.stage == 'E12'"}],"mark":{"type":"text","fontSize":18,"color":"#111","dx":9,"dy":20.5},"encoding":{"text":{"field":"stage"}}},

{"width":153,"height":253,"data":{"name":"rowlabels"},"transform":[{"filter":"datum.r == 1"}],
 "mark":{"type":"text","angle":270,"fontSize":18,"lineBreak":"\n","lineHeight":27,"dx":48.5,"dy":-58.5,"align":"center","baseline":"middle","color":"#111"},
 "encoding":{"text":{"field":"label"}}},
{"width":204,"height":253,"data":{"values":[{}]},
 "layer":[
  {"data":{"name":"ov"},"transform":[{"filter":"datum.p == 'T1'"}],"mark":{"type":"area","opacity":1},"encoding":{"x":{"field":"x","type":"quantitative","scale":{"domain":[-107,212],"nice":false,"zero":false}},"y":{"field":"y","type":"quantitative","scale":{"domain":[-0.6667,1.25],"nice":false,"zero":false},"stack":null},"detail":{"field":"g","type":"nominal"}}},
  {"mark":{"type":"rule","color":"#1a1a1a","strokeWidth":1.5},"encoding":{"x":{"datum":-107},"x2":{"datum":171},"y":{"datum":0}}},
  {"mark":{"type":"rule","color":"#1a1a1a","strokeWidth":1.5},"encoding":{"x":{"datum":0},"y":{"datum":0},"y2":{"datum":1.16}}},
  {"data":{"name":"curves"},"transform":[{"filter":"datum.p == 'T1'"}],"mark":{"type":"line"},"encoding":{
    "x":{"field":"x","type":"quantitative","axis":{"values":[-100,0,100],"tickCount":20,"labelExpr":"datum.value < 0 ? '-' + format(abs(datum.value), 'd') : datum.label","title":null,"offset":-88,"ticks":true,"tickSize":3,"labelPadding":2,"labelFlush":false,"labelOverlap":false}},
    "y":{"field":"y","type":"quantitative","axis":{"values":[0.2,0.4,0.6,0.8,1,1.2],"tickCount":20,"format":"~g","offset":-68.4,"labelAlign":"center","labelPadding":15,"labelOverlap":false,"ticks":false,"tickSize":0,"title":"Probability","titleX":-83,"titleY":80,"titleAngle":270,"titleAlign":"center","titleBaseline":"middle","titleFontSize":16,"titleFontWeight":"normal","titleColor":"#111"}},
    "color":{"field":"s","type":"nominal","scale":{"domain":["Stylopod","Zeugopod","Autopod"],"range":["#f01e1e","#22ee22","#1e1ef0"]},"legend":null}}},
  {"mark":{"type":"point","shape":"M1,0L-1,-0.7L-1,0.7Z","size":144,"filled":true,"color":"#111","opacity":1},"encoding":{"x":{"datum":171},"y":{"datum":0}}},
  {"mark":{"type":"point","shape":"M0,-1L0.7,1L-0.7,1Z","size":144,"filled":true,"color":"#111","opacity":1},"encoding":{"x":{"datum":0},"y":{"datum":1.16}}},
  {"mark":{"type":"rule","color":"#111","strokeWidth":2},"encoding":{"x":{"datum":68.1},"x2":{"datum":36.2},"y":{"datum":-0.28},"y2":{"datum":-0.126}}},
  {"mark":{"type":"point","shape":"M0,-1L0.65,1L-0.65,1Z","angle":-45,"size":196,"filled":true,"color":"#111","opacity":1},"encoding":{"x":{"datum":36.2},"y":{"datum":-0.126}}}
 ]},
{"width":218,"height":253,"data":{"values":[{}]},
 "layer":[
  {"data":{"name":"ov"},"transform":[{"filter":"datum.p == 'T2'"}],"mark":{"type":"area","opacity":1},"encoding":{"x":{"field":"x","type":"quantitative","scale":{"domain":[-68,396],"nice":false,"zero":false}},"y":{"field":"y","type":"quantitative","scale":{"domain":[-0.6667,1.25],"nice":false,"zero":false},"stack":null},"detail":{"field":"g","type":"nominal"}}},
  {"mark":{"type":"rule","color":"#1a1a1a","strokeWidth":1.5},"encoding":{"x":{"datum":-68},"x2":{"datum":287.5},"y":{"datum":0}}},
  {"mark":{"type":"rule","color":"#1a1a1a","strokeWidth":1.5},"encoding":{"x":{"datum":0},"y":{"datum":0},"y2":{"datum":1.16}}},
  {"data":{"name":"curves"},"transform":[{"filter":"datum.p == 'T2'"}],"mark":{"type":"line"},"encoding":{
    "x":{"field":"x","type":"quantitative","axis":{"values":[0,100,200,300],"tickCount":20,"title":null,"offset":-88,"ticks":true,"tickSize":3,"labelPadding":2,"labelFlush":false,"labelOverlap":false}},
    "y":{"field":"y","type":"quantitative","axis":{"values":[0.2,0.4,0.6,0.8,1,1.2],"tickCount":20,"format":"~g","offset":-31.9,"labelAlign":"center","labelPadding":15,"labelOverlap":false,"ticks":false,"tickSize":0,"title":null}},
    "color":{"field":"s","type":"nominal","scale":{"domain":["Stylopod","Zeugopod","Autopod"],"range":["#f01e1e","#22ee22","#1e1ef0"]},"legend":null}}},
  {"mark":{"type":"point","shape":"M1,0L-1,-0.7L-1,0.7Z","size":144,"filled":true,"color":"#111","opacity":1},"encoding":{"x":{"datum":287.5},"y":{"datum":0}}},
  {"mark":{"type":"point","shape":"M0,-1L0.7,1L-0.7,1Z","size":144,"filled":true,"color":"#111","opacity":1},"encoding":{"x":{"datum":0},"y":{"datum":1.16}}}
 ]},
{"width":223,"height":253,"data":{"values":[{}]},
 "layer":[
  {"data":{"name":"ov"},"transform":[{"filter":"datum.p == 'T3'"}],"mark":{"type":"area","opacity":1},"encoding":{"x":{"field":"x","type":"quantitative","scale":{"domain":[-54,583],"nice":false,"zero":false}},"y":{"field":"y","type":"quantitative","scale":{"domain":[-0.6667,1.25],"nice":false,"zero":false},"stack":null},"detail":{"field":"g","type":"nominal"}}},
  {"mark":{"type":"rule","color":"#1a1a1a","strokeWidth":1.5},"encoding":{"x":{"datum":-54},"x2":{"datum":457},"y":{"datum":0}}},
  {"mark":{"type":"rule","color":"#1a1a1a","strokeWidth":1.5},"encoding":{"x":{"datum":0},"y":{"datum":0},"y2":{"datum":1.16}}},
  {"data":{"name":"curves"},"transform":[{"filter":"datum.p == 'T3'"}],"mark":{"type":"line"},"encoding":{
    "x":{"field":"x","type":"quantitative","axis":{"values":[0,100,200,300,400],"tickCount":20,"title":null,"offset":-88,"ticks":true,"tickSize":3,"labelPadding":2,"labelFlush":false,"labelOverlap":false}},
    "y":{"field":"y","type":"quantitative","axis":{"values":[0.2,0.4,0.6,0.8,1,1.2],"tickCount":20,"format":"~g","offset":-18.9,"labelAlign":"center","labelPadding":15,"labelOverlap":false,"ticks":false,"tickSize":0,"title":null}},
    "color":{"field":"s","type":"nominal","scale":{"domain":["Stylopod","Zeugopod","Autopod"],"range":["#f01e1e","#22ee22","#1e1ef0"]},"legend":null}}},
  {"mark":{"type":"point","shape":"M1,0L-1,-0.7L-1,0.7Z","size":144,"filled":true,"color":"#111","opacity":1},"encoding":{"x":{"datum":457},"y":{"datum":0}}},
  {"mark":{"type":"point","shape":"M0,-1L0.7,1L-0.7,1Z","size":144,"filled":true,"color":"#111","opacity":1},"encoding":{"x":{"datum":0},"y":{"datum":1.16}}}
 ]},
{"width":212,"height":253,"data":{"values":[{}]},
 "layer":[
  {"data":{"name":"ov"},"transform":[{"filter":"datum.p == 'T4'"}],"mark":{"type":"area","opacity":1},"encoding":{"x":{"field":"x","type":"quantitative","scale":{"domain":[-47,672],"nice":false,"zero":false}},"y":{"field":"y","type":"quantitative","scale":{"domain":[-0.6667,1.25],"nice":false,"zero":false},"stack":null},"detail":{"field":"g","type":"nominal"}}},
  {"mark":{"type":"rule","color":"#1a1a1a","strokeWidth":1.5},"encoding":{"x":{"datum":-47},"x2":{"datum":550},"y":{"datum":0}}},
  {"mark":{"type":"rule","color":"#1a1a1a","strokeWidth":1.5},"encoding":{"x":{"datum":0},"y":{"datum":0},"y2":{"datum":1.16}}},
  {"data":{"name":"curves"},"transform":[{"filter":"datum.p == 'T4'"}],"mark":{"type":"line"},"encoding":{
    "x":{"field":"x","type":"quantitative","axis":{"values":[0,100,200,300,400,500],"tickCount":20,"title":null,"offset":-88,"ticks":true,"tickSize":3,"labelPadding":2,"labelFlush":false,"labelOverlap":false}},
    "y":{"field":"y","type":"quantitative","axis":{"values":[0.2,0.4,0.6,0.8,1,1.2],"tickCount":20,"format":"~g","offset":-13.9,"labelAlign":"center","labelPadding":15,"labelOverlap":false,"ticks":false,"tickSize":0,"title":null}},
    "color":{"field":"s","type":"nominal","scale":{"domain":["Stylopod","Zeugopod","Autopod"],"range":["#f01e1e","#22ee22","#1e1ef0"]},"legend":null}}},
  {"mark":{"type":"point","shape":"M1,0L-1,-0.7L-1,0.7Z","size":144,"filled":true,"color":"#111","opacity":1},"encoding":{"x":{"datum":550},"y":{"datum":0}}},
  {"mark":{"type":"point","shape":"M0,-1L0.7,1L-0.7,1Z","size":144,"filled":true,"color":"#111","opacity":1},"encoding":{"x":{"datum":0},"y":{"datum":1.16}}}
 ]},
{"width":190,"height":253,"data":{"values":[{}]},
 "layer":[
  {"data":{"name":"ov"},"transform":[{"filter":"datum.p == 'T5'"}],"mark":{"type":"area","opacity":1},"encoding":{"x":{"field":"x","type":"quantitative","scale":{"domain":[-42,675],"nice":false,"zero":false}},"y":{"field":"y","type":"quantitative","scale":{"domain":[-0.6667,1.25],"nice":false,"zero":false},"stack":null},"detail":{"field":"g","type":"nominal"}}},
  {"mark":{"type":"rule","color":"#1a1a1a","strokeWidth":1.5},"encoding":{"x":{"datum":-42},"x2":{"datum":626},"y":{"datum":0}}},
  {"mark":{"type":"rule","color":"#1a1a1a","strokeWidth":1.5},"encoding":{"x":{"datum":0},"y":{"datum":0},"y2":{"datum":1.16}}},
  {"data":{"name":"curves"},"transform":[{"filter":"datum.p == 'T5'"}],"mark":{"type":"line"},"encoding":{
    "x":{"field":"x","type":"quantitative","axis":{"values":[0,100,200,300,400,500,600],"tickCount":20,"labelExpr":"datum.value == 200 || datum.value == 400 ? '' : datum.label","labelOffset":{"condition":{"test":"datum.value == 500","value":-5},"value":0},"title":null,"offset":-88,"ticks":true,"tickSize":3,"labelPadding":2,"labelFlush":false,"labelOverlap":false}},
    "y":{"field":"y","type":"quantitative","axis":{"values":[0.2,0.4,0.6,0.8,1,1.2],"tickCount":20,"format":"~g","offset":-11.1,"labelAlign":"center","labelPadding":15,"labelOverlap":false,"ticks":false,"tickSize":0,"title":null}},
    "color":{"field":"s","type":"nominal","scale":{"domain":["Stylopod","Zeugopod","Autopod"],"range":["#f01e1e","#22ee22","#1e1ef0"]},"legend":null}}},
  {"mark":{"type":"point","shape":"M1,0L-1,-0.7L-1,0.7Z","size":144,"filled":true,"color":"#111","opacity":1},"encoding":{"x":{"datum":626},"y":{"datum":0}}},
  {"mark":{"type":"point","shape":"M0,-1L0.7,1L-0.7,1Z","size":144,"filled":true,"color":"#111","opacity":1},"encoding":{"x":{"datum":0},"y":{"datum":1.16}}}
 ]},

{"width":153,"height":165,"data":{"name":"rowlabels"},"transform":[{"filter":"datum.r == 2"}],
 "mark":{"type":"text","angle":270,"fontSize":18,"lineBreak":"\n","lineHeight":27,"dx":10.5,"dy":-18.5,"align":"center","baseline":"middle","color":"#111"},
 "encoding":{"text":{"field":"label"}}},
{"width":204,"height":165,"data":{"values":[{}]},
 "layer":[
  {"data":{"name":"ov"},"transform":[{"filter":"datum.p == 'B1'"}],"mark":{"type":"area","opacity":1},"encoding":{"x":{"field":"x","type":"quantitative","scale":{"domain":[-107,212],"nice":false,"zero":false}},"y":{"field":"y","type":"quantitative","scale":{"domain":[0,1.27],"nice":false,"zero":false},"stack":null},"detail":{"field":"g","type":"nominal"}}},
  {"mark":{"type":"rule","color":"#1a1a1a","strokeWidth":1.5},"encoding":{"x":{"datum":-107},"x2":{"datum":171},"y":{"datum":0}}},
  {"mark":{"type":"rule","color":"#1a1a1a","strokeWidth":1.5},"encoding":{"x":{"datum":0},"y":{"datum":0},"y2":{"datum":1.16}}},
  {"data":{"name":"curves"},"transform":[{"filter":"datum.p == 'B1'"}],"mark":{"type":"line"},"encoding":{
    "x":{"field":"x","type":"quantitative","axis":{"values":[-100,0,100],"tickCount":20,"labelExpr":"datum.value < 0 ? '-' + format(abs(datum.value), 'd') : datum.label","title":null,"ticks":true,"tickSize":3,"labelPadding":2,"labelFlush":false,"labelOverlap":false}},
    "y":{"field":"y","type":"quantitative","axis":{"values":[0.2,0.4,0.6,0.8,1,1.2],"tickCount":20,"format":"~g","offset":-68.4,"labelAlign":"center","labelPadding":15,"labelOverlap":false,"ticks":false,"tickSize":0,"title":"Probability","titleX":-83,"titleY":80,"titleAngle":270,"titleAlign":"center","titleBaseline":"middle","titleFontSize":16,"titleFontWeight":"normal","titleColor":"#111"}},
    "color":{"field":"s","type":"nominal","scale":{"domain":["Stylopod","Zeugopod","Autopod"],"range":["#f01e1e","#22ee22","#1e1ef0"]},"legend":null}}},
  {"mark":{"type":"point","shape":"M1,0L-1,-0.7L-1,0.7Z","size":144,"filled":true,"color":"#111","opacity":1},"encoding":{"x":{"datum":171},"y":{"datum":0}}},
  {"mark":{"type":"point","shape":"M0,-1L0.7,1L-0.7,1Z","size":144,"filled":true,"color":"#111","opacity":1},"encoding":{"x":{"datum":0},"y":{"datum":1.16}}},
  {"mark":{"type":"rule","color":"#111","strokeWidth":2},"encoding":{"x":{"datum":71.3},"x2":{"datum":39.4},"y":{"datum":-0.269},"y2":{"datum":-0.12}}},
  {"mark":{"type":"point","shape":"M0,-1L0.65,1L-0.65,1Z","angle":-45,"size":196,"filled":true,"color":"#111","opacity":1},"encoding":{"x":{"datum":39.4},"y":{"datum":-0.12}}}
 ]},
{"width":218,"height":165,"data":{"values":[{}]},
 "layer":[
  {"data":{"name":"ov"},"transform":[{"filter":"datum.p == 'B2'"}],"mark":{"type":"area","opacity":1},"encoding":{"x":{"field":"x","type":"quantitative","scale":{"domain":[-68,396],"nice":false,"zero":false}},"y":{"field":"y","type":"quantitative","scale":{"domain":[0,1.27],"nice":false,"zero":false},"stack":null},"detail":{"field":"g","type":"nominal"}}},
  {"mark":{"type":"rule","color":"#1a1a1a","strokeWidth":1.5},"encoding":{"x":{"datum":-68},"x2":{"datum":287.5},"y":{"datum":0}}},
  {"mark":{"type":"rule","color":"#1a1a1a","strokeWidth":1.5},"encoding":{"x":{"datum":0},"y":{"datum":0},"y2":{"datum":1.16}}},
  {"data":{"name":"curves"},"transform":[{"filter":"datum.p == 'B2'"}],"mark":{"type":"line"},"encoding":{
    "x":{"field":"x","type":"quantitative","axis":{"values":[0,100,200,300],"tickCount":20,"title":null,"ticks":true,"tickSize":3,"labelPadding":2,"labelFlush":false,"labelOverlap":false}},
    "y":{"field":"y","type":"quantitative","axis":{"values":[0.2,0.4,0.6,0.8,1,1.2],"tickCount":20,"format":"~g","offset":-31.9,"labelAlign":"center","labelPadding":15,"labelOverlap":false,"ticks":false,"tickSize":0,"title":null}},
    "color":{"field":"s","type":"nominal","scale":{"domain":["Stylopod","Zeugopod","Autopod"],"range":["#f01e1e","#22ee22","#1e1ef0"]},"legend":null}}},
  {"mark":{"type":"point","shape":"M1,0L-1,-0.7L-1,0.7Z","size":144,"filled":true,"color":"#111","opacity":1},"encoding":{"x":{"datum":287.5},"y":{"datum":0}}},
  {"mark":{"type":"point","shape":"M0,-1L0.7,1L-0.7,1Z","size":144,"filled":true,"color":"#111","opacity":1},"encoding":{"x":{"datum":0},"y":{"datum":1.16}}}
 ]},
{"width":223,"height":165,"data":{"values":[{}]},
 "layer":[
  {"data":{"name":"ov"},"transform":[{"filter":"datum.p == 'B3'"}],"mark":{"type":"area","opacity":1},"encoding":{"x":{"field":"x","type":"quantitative","scale":{"domain":[-54,583],"nice":false,"zero":false}},"y":{"field":"y","type":"quantitative","scale":{"domain":[0,1.27],"nice":false,"zero":false},"stack":null},"detail":{"field":"g","type":"nominal"}}},
  {"mark":{"type":"rule","color":"#1a1a1a","strokeWidth":1.5},"encoding":{"x":{"datum":-54},"x2":{"datum":457},"y":{"datum":0}}},
  {"mark":{"type":"rule","color":"#1a1a1a","strokeWidth":1.5},"encoding":{"x":{"datum":0},"y":{"datum":0},"y2":{"datum":1.16}}},
  {"data":{"name":"curves"},"transform":[{"filter":"datum.p == 'B3'"}],"mark":{"type":"line"},"encoding":{
    "x":{"field":"x","type":"quantitative","axis":{"values":[0,100,200,300,400],"tickCount":20,"title":null,"ticks":true,"tickSize":3,"labelPadding":2,"labelFlush":false,"labelOverlap":false}},
    "y":{"field":"y","type":"quantitative","axis":{"values":[0.2,0.4,0.6,0.8,1,1.2],"tickCount":20,"format":"~g","offset":-18.9,"labelAlign":"center","labelPadding":15,"labelOverlap":false,"ticks":false,"tickSize":0,"title":null}},
    "color":{"field":"s","type":"nominal","scale":{"domain":["Stylopod","Zeugopod","Autopod"],"range":["#f01e1e","#22ee22","#1e1ef0"]},"legend":null}}},
  {"mark":{"type":"point","shape":"M1,0L-1,-0.7L-1,0.7Z","size":144,"filled":true,"color":"#111","opacity":1},"encoding":{"x":{"datum":457},"y":{"datum":0}}},
  {"mark":{"type":"point","shape":"M0,-1L0.7,1L-0.7,1Z","size":144,"filled":true,"color":"#111","opacity":1},"encoding":{"x":{"datum":0},"y":{"datum":1.16}}}
 ]},
{"width":212,"height":165,"data":{"values":[{}]},
 "layer":[
  {"data":{"name":"ov"},"transform":[{"filter":"datum.p == 'B4'"}],"mark":{"type":"area","opacity":1},"encoding":{"x":{"field":"x","type":"quantitative","scale":{"domain":[-47,672],"nice":false,"zero":false}},"y":{"field":"y","type":"quantitative","scale":{"domain":[0,1.27],"nice":false,"zero":false},"stack":null},"detail":{"field":"g","type":"nominal"}}},
  {"mark":{"type":"rule","color":"#1a1a1a","strokeWidth":1.5},"encoding":{"x":{"datum":-47},"x2":{"datum":550},"y":{"datum":0}}},
  {"mark":{"type":"rule","color":"#1a1a1a","strokeWidth":1.5},"encoding":{"x":{"datum":0},"y":{"datum":0},"y2":{"datum":1.16}}},
  {"data":{"name":"curves"},"transform":[{"filter":"datum.p == 'B4'"}],"mark":{"type":"line"},"encoding":{
    "x":{"field":"x","type":"quantitative","axis":{"values":[0,100,200,300,400,500],"tickCount":20,"title":null,"ticks":true,"tickSize":3,"labelPadding":2,"labelFlush":false,"labelOverlap":false}},
    "y":{"field":"y","type":"quantitative","axis":{"values":[0.2,0.4,0.6,0.8,1,1.2],"tickCount":20,"format":"~g","offset":-13.9,"labelAlign":"center","labelPadding":15,"labelOverlap":false,"ticks":false,"tickSize":0,"title":null}},
    "color":{"field":"s","type":"nominal","scale":{"domain":["Stylopod","Zeugopod","Autopod"],"range":["#f01e1e","#22ee22","#1e1ef0"]},"legend":null}}},
  {"mark":{"type":"point","shape":"M1,0L-1,-0.7L-1,0.7Z","size":144,"filled":true,"color":"#111","opacity":1},"encoding":{"x":{"datum":550},"y":{"datum":0}}},
  {"mark":{"type":"point","shape":"M0,-1L0.7,1L-0.7,1Z","size":144,"filled":true,"color":"#111","opacity":1},"encoding":{"x":{"datum":0},"y":{"datum":1.16}}}
 ]},
{"width":190,"height":165,"data":{"values":[{}]},
 "layer":[
  {"data":{"name":"ov"},"transform":[{"filter":"datum.p == 'B5'"}],"mark":{"type":"area","opacity":1},"encoding":{"x":{"field":"x","type":"quantitative","scale":{"domain":[-42,675],"nice":false,"zero":false}},"y":{"field":"y","type":"quantitative","scale":{"domain":[0,1.27],"nice":false,"zero":false},"stack":null},"detail":{"field":"g","type":"nominal"}}},
  {"mark":{"type":"rule","color":"#1a1a1a","strokeWidth":1.5},"encoding":{"x":{"datum":-42},"x2":{"datum":626},"y":{"datum":0}}},
  {"mark":{"type":"rule","color":"#1a1a1a","strokeWidth":1.5},"encoding":{"x":{"datum":0},"y":{"datum":0},"y2":{"datum":1.16}}},
  {"data":{"name":"curves"},"transform":[{"filter":"datum.p == 'B5'"}],"mark":{"type":"line"},"encoding":{
    "x":{"field":"x","type":"quantitative","axis":{"values":[0,100,200,300,400,500,600],"tickCount":20,"labelExpr":"datum.value == 200 || datum.value == 400 ? '' : datum.label","labelOffset":{"condition":{"test":"datum.value == 500","value":-5},"value":0},"title":null,"ticks":true,"tickSize":3,"labelPadding":2,"labelFlush":false,"labelOverlap":false}},
    "y":{"field":"y","type":"quantitative","axis":{"values":[0.2,0.4,0.6,0.8,1,1.2],"tickCount":20,"format":"~g","offset":-11.1,"labelAlign":"center","labelPadding":15,"labelOverlap":false,"ticks":false,"tickSize":0,"title":null}},
    "color":{"field":"s","type":"nominal","scale":{"domain":["Stylopod","Zeugopod","Autopod"],"range":["#f01e1e","#22ee22","#1e1ef0"]},"legend":null}}},
  {"mark":{"type":"point","shape":"M1,0L-1,-0.7L-1,0.7Z","size":144,"filled":true,"color":"#111","opacity":1},"encoding":{"x":{"datum":626},"y":{"datum":0}}},
  {"mark":{"type":"point","shape":"M0,-1L0.7,1L-0.7,1Z","size":144,"filled":true,"color":"#111","opacity":1},"encoding":{"x":{"datum":0},"y":{"datum":1.16}}}
 ]},

{"width":153,"height":85,"data":{"name":"parts"},
 "encoding":{
  "x":{"field":"s","type":"nominal","sort":null,"scale":{"type":"point","domain":["Stylopod","Zeugopod","Autopod"],"range":[537.5,738.5],"padding":0},"axis":null},
  "y":{"datum":0.0588,"scale":{"domain":[0,1]},"axis":null}
 },
 "layer":[
  {"mark":{"type":"square","size":225,"stroke":"#222","strokeWidth":1,"opacity":1,"filled":true},"encoding":{"color":{"field":"s","type":"nominal","scale":{"domain":["Stylopod","Zeugopod","Autopod"],"range":["#f01e1e","#22ee22","#1e1ef0"]},"legend":null}}},
  {"mark":{"type":"text","align":"left","dx":11,"fontSize":18,"color":"#111","baseline":"middle"},"encoding":{"text":{"field":"s"}}}
 ]}
]
}
